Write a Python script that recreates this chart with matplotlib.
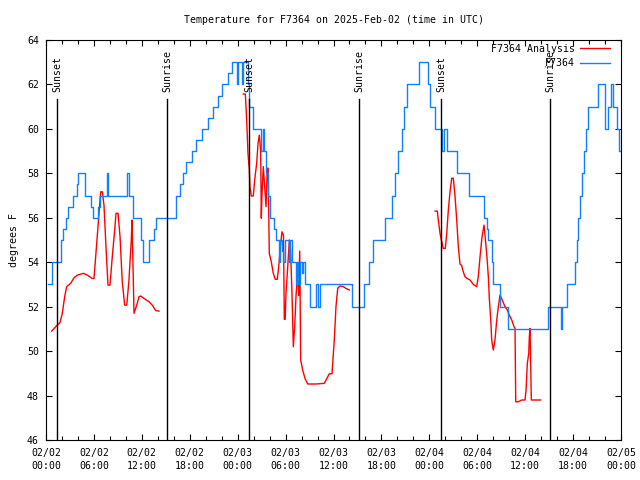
import matplotlib; matplotlib.use("Agg")
import matplotlib.pyplot as plt
import numpy as np

plt.rcParams.update({"font.family": "DejaVu Sans Mono", "font.size": 7.1})

# hours since 2025-02-02 00:00 UTC
red1_h = [0.71, 1.41, 1.75, 2.04, 2.34, 2.59, 3.09, 3.51, 3.92, 4.67, 5.17, 5.80, 6.01, 6.22, 6.51,
          6.76, 6.85, 7.05, 7.26, 7.51, 7.76, 8.01, 8.30, 8.60, 8.77, 9.02, 9.27, 9.55, 9.85, 10.11,
          10.39, 10.68, 10.77, 10.89, 11.02, 11.36, 11.65, 11.86, 12.27, 12.90, 13.31, 13.74, 14.15]
red1_v = [50.9, 51.17, 51.28, 51.7, 52.45, 52.9, 53.05, 53.3, 53.42, 53.5, 53.42, 53.27, 53.27, 54.25, 55.6,
          56.8, 57.17, 57.17, 56.57, 54.7, 52.97, 52.97, 54.25, 55.45, 56.2, 56.2, 55.15, 53.12, 52.07, 52.07,
          53.2, 55.0, 55.9, 53.95, 51.7, 52.07, 52.45, 52.48, 52.37, 52.22, 52.07, 51.82, 51.8]

red2_h = [24.71, 24.96, 25.13, 25.29, 25.46, 25.54, 25.71, 25.96, 26.13, 26.38, 26.55, 26.71, 26.88, 26.96,
          27.05, 27.21, 27.55, 27.71, 27.82, 27.88, 27.96, 28.21, 28.46, 28.71, 28.96, 29.14, 29.39, 29.55,
          29.74, 29.84, 29.95, 30.05, 30.27, 30.47, 30.62, 30.80, 30.97, 31.14, 31.31, 31.52, 31.64, 31.77,
          31.89, 32.14, 32.43, 32.77, 33.81, 34.85, 35.47, 35.81, 36.10, 36.31, 36.53, 36.81, 37.23, 37.57, 37.98]
red2_v = [61.57, 61.57, 60.4, 58.9, 58.15, 57.4, 56.98, 56.98, 57.7, 58.45, 59.35, 59.72, 59.05, 55.98,
          57.1, 58.3, 56.5, 58.23, 58.23, 56.43, 54.4, 54.02, 53.5, 53.23, 53.23, 53.8, 54.85, 55.37,
          55.2, 51.43, 51.43, 52.6, 53.8, 55.0, 54.6, 52.6, 50.2, 51.1, 52.5, 53.6, 52.5, 54.5,
          49.6, 49.15, 48.77, 48.52, 48.52, 48.55, 48.98, 48.98, 50.5, 52.0, 52.83, 52.93, 52.9, 52.82, 52.75]

red3_h = [48.71, 49.0, 49.12, 49.34, 49.50, 49.75, 50.0, 50.18, 50.38, 50.59, 50.80, 51.0, 51.22, 51.43,
          51.63, 51.84, 52.05, 52.25, 52.46, 52.68, 53.09, 53.51, 53.93, 54.13, 54.35, 54.60, 54.85, 55.18,
          55.39, 55.51, 55.69, 55.81, 56.01, 56.22, 56.44, 56.64, 56.85, 57.06, 57.26, 57.48, 57.76, 58.01,
          58.32, 58.60, 58.73, 58.82, 59.14, 59.57, 59.98, 60.11, 60.27, 60.45, 60.52, 60.61, 60.69, 60.77, 61.95]
red3_v = [56.3, 56.3, 55.9, 55.3, 55.0, 54.62, 54.62, 55.3, 56.35, 57.17, 57.78, 57.78, 56.95, 55.9,
          54.7, 53.92, 53.85, 53.57, 53.35, 53.28, 53.2, 53.0, 52.9, 53.35, 54.25, 55.15, 55.67, 54.4,
          53.35, 52.37, 51.4, 50.5, 50.05, 50.5, 51.4, 52.0, 52.52, 52.37, 52.18, 52.0, 51.85, 51.62,
          51.4, 51.1, 51.02, 47.72, 47.72, 47.8, 47.8, 48.25, 49.45, 49.9, 50.65, 51.02, 49.45, 47.8, 47.8]

blue_h = [0.25, 0.75, 1.84, 2.09, 2.50, 2.75, 3.34, 3.82, 4.04, 4.85, 5.60, 5.85, 6.55, 6.76, 7.68, 7.80,
          10.18, 10.36, 10.86, 11.86, 12.11, 12.86, 13.52, 13.77, 16.22, 16.78, 17.19, 17.53, 18.24, 18.78,
          19.57, 20.29, 20.95, 21.54, 22.00, 22.79, 23.25, 23.92, 24.08, 24.51, 24.71, 25.33, 25.46, 25.88,
          26.92, 27.13, 27.30, 27.55, 27.80, 28.01, 28.55, 28.74, 29.18, 29.36, 29.55, 29.68, 29.93, 30.43,
          30.55, 30.80, 31.30, 31.43, 31.56, 31.81, 32.06, 32.18, 32.43, 33.06, 33.87, 34.00, 34.31, 38.32,
          39.88, 40.48, 40.91, 42.41, 43.29, 43.70, 44.11, 44.54, 44.87, 45.20, 46.74, 47.87, 48.08, 48.71,
          49.58, 49.84, 50.25, 51.43, 53.01, 54.85, 55.18, 55.39, 55.81, 55.93, 56.85, 57.89, 62.86, 64.49,
          64.65, 65.20, 66.24, 66.45, 66.65, 66.87, 67.08, 67.37, 67.66, 67.91, 69.16, 70.03, 70.40, 70.71,
          71.03, 71.45, 71.78, 72.0]
blue_v = [53, 54, 55, 55.5, 56, 56.5, 57, 57.5, 58, 57, 56.5, 56, 56.5, 57, 58, 57,
          58, 57, 56, 55, 54, 55, 55.5, 56, 57, 57.5, 58, 58.5, 59, 59.5,
          60, 60.5, 61, 61.5, 62, 62.5, 63, 62, 63, 62, 63, 62, 61, 60,
          59, 60, 59, 58, 57, 56, 55.5, 55, 54, 55, 54.5, 54, 55, 54,
          55, 54, 53, 54, 53, 54, 53.5, 54, 53, 52, 53, 52, 53, 52,
          53, 54, 55, 56, 57, 58, 59, 60, 61, 62, 63, 62, 61, 60,
          59, 60, 59, 58, 57, 56, 55.5, 55, 54, 53, 52, 51, 52, 51,
          52, 53, 54, 55, 56, 57, 58, 59, 60, 61, 62, 60, 61, 62,
          61, 60, 59, 59]

sun_h = [1.42, 15.19, 25.46, 39.24, 49.5, 63.15]
sun_lbl = ["Sunset", "Sunrise", "Sunset", "Sunrise", "Sunset", "Sunrise"]

xt = list(range(0, 73, 6))
xt_lbl = ["02/02\n00:00", "02/02\n06:00", "02/02\n12:00", "02/02\n18:00",
          "02/03\n00:00", "02/03\n06:00", "02/03\n12:00", "02/03\n18:00",
          "02/04\n00:00", "02/04\n06:00", "02/04\n12:00", "02/04\n18:00", "02/05\n00:00"]

fig = plt.figure(figsize=(6.4, 4.8), dpi=100)
ax = fig.add_axes([46/640, 40/480, 575/640, 400/480])

RED = "#ff0000"; BLUE = "#1080ff"
ax.plot(red1_h, red1_v, color=RED, lw=1, label="F7364 Analysis")
ax.plot(red2_h, red2_v, color=RED, lw=1)
ax.plot(red3_h, red3_v, color=RED, lw=1)
ax.plot(blue_h, blue_v, color=BLUE, lw=1, drawstyle="steps-post", label="F7364")

for h, s in zip(sun_h, sun_lbl):
    ax.plot([h, h], [46, 61.33], color="black", lw=1)
    ax.text(h, 61.67, s, rotation=90, ha="center", va="bottom", fontsize=7.1)

ax.set_xlim(0, 72); ax.set_ylim(46, 64)
ax.set_xticks(xt); ax.set_xticklabels(xt_lbl, linespacing=1.35)
ax.set_xticks(range(0, 73, 2), minor=True)
ax.set_yticks(range(46, 65, 2))
ax.tick_params(which="both", direction="in", top=True, right=True, width=0.8)
ax.tick_params(which="major", length=4.5, pad=5)
ax.tick_params(axis="x", which="major", pad=6)
ax.tick_params(which="minor", length=3)
for sp in ax.spines.values():
    sp.set_linewidth(0.8)
ax.set_ylabel("degrees F", labelpad=6)
ax.set_title("Temperature for F7364 on 2025-Feb-02 (time in UTC)", fontsize=7.1, pad=12)
ax.legend(loc="upper right", bbox_to_anchor=(1 - 7/575, 1.0), frameon=False, markerfirst=False,
          handlelength=3.0, labelspacing=0.45, borderaxespad=0.0, handletextpad=0.6, fontsize=7.1)
fig.savefig("out.png", dpi=100)
